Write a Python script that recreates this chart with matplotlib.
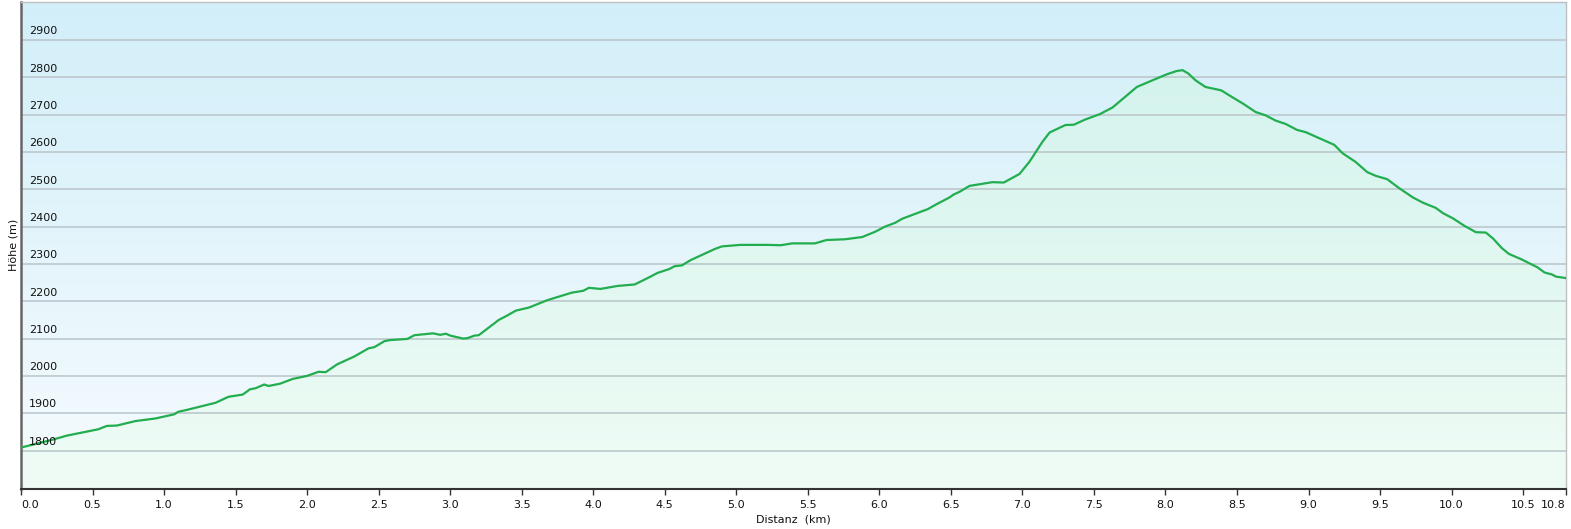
"""
Elevation profile (Höhenprofil) with gradient background and filled area.
"""
import matplotlib.pyplot as plt
import numpy as np
from matplotlib.colors import LinearSegmentedColormap
from matplotlib.patches import Polygon

# distance along the route (km) and elevation (m)
DIST_KM = [
    0.00, 0.22, 0.32, 0.54, 0.60, 0.67, 0.80, 0.94, 1.07, 1.10, 1.16, 1.36,
    1.45, 1.55, 1.60, 1.64, 1.70, 1.73, 1.81, 1.90, 2.00, 2.08, 2.13, 2.21,
    2.33, 2.43, 2.47, 2.54, 2.58, 2.70, 2.75, 2.88, 2.93, 2.97, 3.00, 3.09,
    3.12, 3.17, 3.20, 3.34, 3.40, 3.46, 3.55, 3.68, 3.85, 3.93, 3.97, 4.05,
    4.17, 4.29, 4.38, 4.45, 4.53, 4.57, 4.62, 4.68, 4.85, 4.90, 5.03, 5.22,
    5.31, 5.39, 5.55, 5.63, 5.76, 5.88, 5.97, 6.04, 6.11, 6.16, 6.34, 6.40,
    6.49, 6.52, 6.56, 6.59, 6.63, 6.79, 6.87, 6.98, 7.05, 7.14, 7.19, 7.25,
    7.30, 7.36, 7.44, 7.54, 7.63, 7.71, 7.80, 7.91, 8.01, 8.08, 8.12, 8.16,
    8.21, 8.28, 8.39, 8.47, 8.54, 8.63, 8.70, 8.77, 8.84, 8.92, 8.98, 9.18,
    9.24, 9.33, 9.41, 9.47, 9.55, 9.63, 9.73, 9.80, 9.89, 9.94, 10.01, 10.09,
    10.17, 10.24, 10.29, 10.35, 10.40, 10.49, 10.60, 10.65, 10.70, 10.73, 10.80,
]
ELEV_M = [
    1808, 1829, 1840, 1857, 1866, 1867, 1879, 1886, 1897, 1904, 1909, 1928,
    1944, 1950, 1964, 1967, 1977, 1973, 1979, 1992, 2000, 2011, 2010, 2031,
    2052, 2074, 2077, 2093, 2096, 2099, 2109, 2114, 2110, 2113, 2108, 2100,
    2101, 2108, 2109, 2150, 2162, 2175, 2183, 2203, 2223, 2228, 2236, 2233,
    2241, 2245, 2262, 2276, 2286, 2294, 2296, 2310, 2340, 2347, 2351, 2351,
    2350, 2355, 2355, 2364, 2366, 2372, 2386, 2400, 2410, 2421, 2447, 2460,
    2478, 2486, 2493, 2500, 2509, 2519, 2518, 2541, 2574, 2627, 2652, 2663,
    2672, 2673, 2687, 2701, 2719, 2745, 2774, 2792, 2808, 2817, 2819, 2810,
    2792, 2774, 2765, 2746, 2730, 2707, 2698, 2684, 2675, 2659, 2653, 2619,
    2596, 2573, 2546, 2536, 2527, 2504, 2478, 2464, 2450, 2436, 2422, 2402,
    2385, 2384, 2368, 2343, 2327, 2312, 2291, 2277, 2272, 2266, 2262,
]

X_TICKS = [0.0, 0.5, 1.0, 1.5, 2.0, 2.5, 3.0, 3.5, 4.0, 4.5, 5.0,
           5.5, 6.0, 6.5, 7.0, 7.5, 8.0, 8.5, 9.0, 9.5, 10.0, 10.5, 10.8]
Y_TICKS = [1800, 1900, 2000, 2100, 2200, 2300, 2400, 2500, 2600, 2700, 2800, 2900]

LINE_COLOR = "#22ad4f"
GRID_COLOR = "#bcc8cc"
TEXT_COLOR = "#111111"
FS = 8

X_MAX = 10.8
Y_MIN, Y_MAX = 1697, 3003

fig = plt.figure(figsize=(15.71, 5.29), dpi=100)
ax = fig.add_axes([21 / 1571, 40 / 529, 1545 / 1571, 487.5 / 529])
ax.set_xlim(0, X_MAX)
ax.set_ylim(Y_MIN, Y_MAX)

# sky-like background gradient
bg_cmap = LinearSegmentedColormap.from_list("bg", ["#f6fbfe", "#d2eff9"])
ax.imshow(np.linspace(0, 1, 256).reshape(-1, 1), cmap=bg_cmap, origin="lower",
          aspect="auto", extent=[0, X_MAX, Y_MIN, Y_MAX], zorder=0)

# green gradient under the profile, clipped to the area polygon
fill_cmap = LinearSegmentedColormap.from_list("fill", ["#effcf5", "#d0f2ec"])
grad = ax.imshow(np.linspace(0, 1, 256).reshape(-1, 1), cmap=fill_cmap, origin="lower",
                 aspect="auto", extent=[0, X_MAX, Y_MIN, Y_MAX], zorder=1)
verts = [(DIST_KM[0], Y_MIN)] + list(zip(DIST_KM, ELEV_M)) + [(DIST_KM[-1], Y_MIN)]
clip = Polygon(verts, closed=True, facecolor="none", edgecolor="none")
ax.add_patch(clip)
grad.set_clip_path(clip)

for y in Y_TICKS:
    ax.axhline(y, color=GRID_COLOR, linewidth=1.2, zorder=2)
    ax.text(0.0052, y + 10, str(y), transform=ax.get_yaxis_transform(),
            ha="left", va="bottom", fontsize=FS, color=TEXT_COLOR, zorder=4)

ax.plot(DIST_KM, ELEV_M, color=LINE_COLOR, linewidth=1.6, zorder=3)

ax.set_yticks([])
ax.set_xticks(X_TICKS)
labels = ax.set_xticklabels([f"{t:.1f}" for t in X_TICKS], fontsize=FS, color=TEXT_COLOR)
labels[0].set_horizontalalignment("left")
labels[-1].set_horizontalalignment("right")
ax.tick_params(axis="x", direction="out", length=4, width=1, color="#333333", pad=4)

ax.set_xlabel("Distanz  (km)", fontsize=FS, color=TEXT_COLOR, labelpad=3)
ax.set_ylabel("Höhe (m)", fontsize=FS, color=TEXT_COLOR, labelpad=2)

ax.spines["left"].set_color("#666666")
ax.spines["left"].set_linewidth(1.8)
ax.spines["bottom"].set_color("#333333")
ax.spines["bottom"].set_linewidth(1.5)
for side in ("top", "right"):
    ax.spines[side].set_color("#c0c0c0")
    ax.spines[side].set_linewidth(1)

fig.savefig("out.png", dpi=100, facecolor="white")
